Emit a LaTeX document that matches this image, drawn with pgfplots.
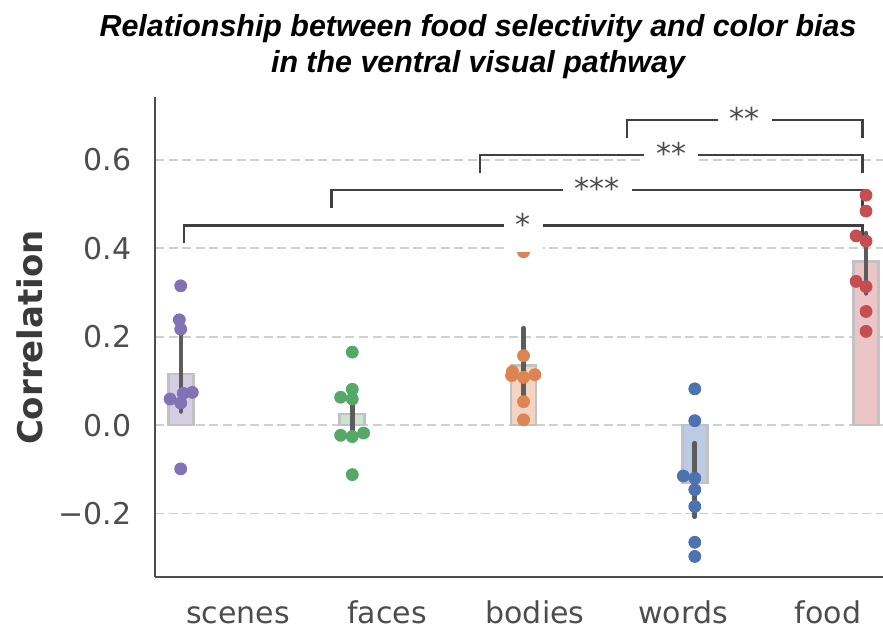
\documentclass[border=0pt]{standalone}
\usepackage{pgfplots}
\pgfplotsset{compat=1.18}
\usepackage{fontspec}
\setmainfont{DejaVu Sans}
\newfontfamily\titlefont{Liberation Sans}

\definecolor{sbpurple}{HTML}{8172B3}
\definecolor{sbgreen}{HTML}{55A868}
\definecolor{sborange}{HTML}{DD8452}
\definecolor{sbblue}{HTML}{4C72B0}
\definecolor{sbred}{HTML}{C44E52}
\definecolor{inkgray}{HTML}{4D4D4D}
\definecolor{labelgray}{HTML}{3A3A3A}
\definecolor{bracketgray}{HTML}{404040}
\definecolor{gridgray}{HTML}{D0D0D0}
\definecolor{baredge}{HTML}{C2C2C2}
\definecolor{errgray}{HTML}{5C5C5C}

\begin{document}
\begin{tikzpicture}
\path[use as bounding box] (0,0) rectangle (441.5pt,314pt);

% two-line title
\node[anchor=base, font=\titlefont\bfseries\itshape\fontsize{15.2pt}{18pt}\selectfont]
  at (239pt,295.65pt) {Relationship between food selectivity and color bias};
\node[anchor=base, font=\titlefont\bfseries\itshape\fontsize{15.2pt}{18pt}\selectfont]
  at (239pt,277.5pt) {in the ventral visual pathway};

\begin{axis}[
  at={(77.5pt,25.5pt)}, anchor=south west,
  scale only axis, width=364pt, height=240pt,
  xmin=-0.152, xmax=4.099, ymin=-0.3435, ymax=0.742,
  axis x line*=bottom, axis y line*=left,
  axis line style={draw=inkgray, line width=1.25pt, -},
  xtick={0.333,1.203,2.067,2.931,3.778},
  xticklabels={scenes,faces,bodies,words,food},
  ytick={-0.2,0,0.2,0.4,0.6},
  yticklabels={−0.2,0.0,0.2,0.4,0.6},
  major tick length=0pt,
  tick label style={font=\fontsize{15pt}{18pt}\selectfont, text=inkgray},
  xticklabel style={anchor=base, yshift=-23pt, inner sep=0pt},
  yticklabel style={anchor=east, xshift=-11.5pt, inner sep=0pt},
  ymajorgrids,
  grid style={gridgray, dash pattern=on 4.5pt off 2.3pt, line width=0.95pt},
  ylabel={Correlation},
  ylabel style={font=\bfseries\fontsize{17pt}{20pt}\selectfont, text=labelgray,
    at={(axis description cs:-0.1552,0.499)}, anchor=base},
  every axis plot/.append style={forget plot},
]

% mean bars
\addplot[ybar, bar width=12.5pt, bar shift=0pt, fill=sbpurple!35!white, draw=baredge, line width=1.3pt] coordinates {(0,0.116)};
\addplot[ybar, bar width=12.5pt, bar shift=0pt, fill=sbgreen!30!white, draw=baredge, line width=1.3pt] coordinates {(1,0.025)};
\addplot[ybar, bar width=12.5pt, bar shift=0pt, fill=sborange!35!white, draw=baredge, line width=1.3pt] coordinates {(2,0.135)};
\addplot[ybar, bar width=12.5pt, bar shift=0pt, fill=sbblue!37!white, draw=baredge, line width=1.3pt] coordinates {(3,-0.131)};
\addplot[ybar, bar width=12.5pt, bar shift=0pt, fill=sbred!33!white, draw=baredge, line width=1.3pt] coordinates {(4,0.370)};

% confidence intervals
\pgfplotsset{cistyle/.style={errgray, line width=2.4pt, line cap=round, mark=none}}
\addplot[cistyle] coordinates {(0,0.031) (0,0.202)};
\addplot[cistyle] coordinates {(1,-0.011) (1,0.046)};
\addplot[cistyle] coordinates {(2,0.068) (2,0.219)};
\addplot[cistyle] coordinates {(3,-0.207) (3,-0.041)};
\addplot[cistyle] coordinates {(4,0.298) (4,0.434)};

% individual subjects
\pgfplotsset{dots/.style={only marks, mark=*, mark size=3pt, color=#1, mark options={draw=#1, fill=#1}}}
\addplot[dots=sbpurple] coordinates {
  (-0.002,0.315) (-0.010,0.238) (-0.002,0.217) (-0.064,0.059)
  (-0.002,0.050) (0.013,0.072) (0.066,0.074) (-0.002,-0.099)};
\addplot[dots=sbgreen] coordinates {
  (1.0,0.165) (1.0,0.081) (0.932,0.063) (1.0,0.059)
  (0.932,-0.023) (1.0,-0.026) (1.066,-0.018) (1.0,-0.112)};
\addplot[dots=sborange] coordinates {
  (2.0,0.392) (2.0,0.157) (1.935,0.121) (1.930,0.112)
  (2.0,0.108) (2.066,0.114) (2.0,0.053) (2.0,0.012)};
\addplot[dots=sbblue] coordinates {
  (3.0,0.082) (3.0,0.010) (2.933,-0.115) (3.0,-0.120)
  (3.0,-0.146) (3.0,-0.184) (3.0,-0.265) (3.0,-0.297)};
\addplot[dots=sbred] coordinates {
  (4.0,0.520) (4.0,0.484) (3.942,0.428) (4.0,0.416)
  (3.942,0.325) (4.0,0.313) (4.0,0.257) (4.0,0.212)};

% significance brackets (food vs. each other category)
\pgfplotsset{bracket/.style={bracketgray, line width=1.2pt, mark=none}}
\addplot[bracket] coordinates {(0.016,0.411) (0.016,0.451) (3.98,0.451) (3.98,0.411)};
\addplot[bracket] coordinates {(0.879,0.491) (0.879,0.531) (3.98,0.531) (3.98,0.491)};
\addplot[bracket] coordinates {(1.744,0.571) (1.744,0.611) (3.98,0.611) (3.98,0.571)};
\addplot[bracket] coordinates {(2.604,0.650) (2.604,0.690) (3.98,0.690) (3.98,0.650)};

% anchor points for the significance labels
\coordinate (sigA) at (axis cs:1.998,0.451);
\coordinate (sigB) at (axis cs:2.4295,0.531);
\coordinate (sigC) at (axis cs:2.862,0.611);
\coordinate (sigD) at (axis cs:3.292,0.690);
\end{axis}

% significance labels on white boxes, above everything else
\tikzset{star/.style={fill=white, inner xsep=6pt, inner ysep=0pt,
  text height=18.1pt, text depth=8.4pt, text=inkgray,
  font=\fontsize{15pt}{18pt}\selectfont}}
\node[star] at (sigA) {*};
\node[star] at (sigB) {***};
\node[star] at (sigC) {**};
\node[star] at (sigD) {**};
\end{tikzpicture}
\end{document}
